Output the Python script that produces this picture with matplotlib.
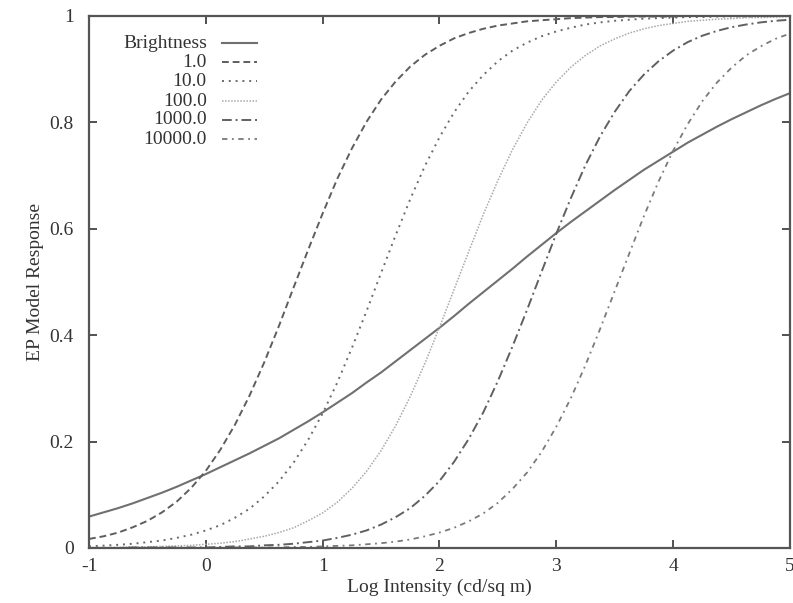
import matplotlib
matplotlib.use('Agg')
import matplotlib.pyplot as plt

plt.rcParams['font.family'] = ['Liberation Serif', 'DejaVu Serif']
plt.rcParams['axes.unicode_minus'] = False

# log intensity, steps of 0.125
log_i = [-1.0, -0.875, -0.75, -0.625, -0.5, -0.375, -0.25, -0.125,
         0.0, 0.125, 0.25, 0.375, 0.5, 0.625, 0.75, 0.875,
         1.0, 1.125, 1.25, 1.375, 1.5, 1.625, 1.75, 1.875,
         2.0, 2.125, 2.25, 2.375, 2.5, 2.625, 2.75, 2.875,
         3.0, 3.125, 3.25, 3.375, 3.5, 3.625, 3.75, 3.875,
         4.0, 4.125, 4.25, 4.375, 4.5, 4.625, 4.75, 4.875, 5.0]

brightness = [0.059, 0.067, 0.075, 0.084, 0.094, 0.104, 0.115, 0.127,
              0.139, 0.152, 0.165, 0.178, 0.192, 0.206, 0.222, 0.238,
              0.255, 0.273, 0.291, 0.311, 0.330, 0.351, 0.372, 0.393,
              0.414, 0.436, 0.459, 0.481, 0.503, 0.525, 0.548, 0.570,
              0.592, 0.613, 0.633, 0.653, 0.673, 0.692, 0.711, 0.728,
              0.745, 0.762, 0.777, 0.792, 0.806, 0.819, 0.832, 0.844, 0.855]
resp_1 = [0.017, 0.022, 0.029, 0.039, 0.051, 0.067, 0.087, 0.113,
          0.145, 0.185, 0.232, 0.287, 0.349, 0.417, 0.489, 0.560,
          0.629, 0.694, 0.751, 0.801, 0.843, 0.877, 0.905, 0.927,
          0.944, 0.958, 0.968, 0.976, 0.982, 0.986, 0.990, 0.992,
          0.994, 0.996, 0.997, 0.998, 0.998, 0.999, 0.999, 0.999,
          0.999, 1.0, 1.0, 1.0, 1.0, 1.0, 1.0, 1.0, 1.0]
resp_10 = [0.003, 0.0045, 0.006, 0.008, 0.011, 0.014, 0.019, 0.025,
           0.033, 0.043, 0.057, 0.074, 0.097, 0.125, 0.160, 0.203,
           0.253, 0.311, 0.376, 0.445, 0.517, 0.588, 0.656, 0.718,
           0.772, 0.819, 0.858, 0.889, 0.915, 0.935, 0.950, 0.962,
           0.971, 0.978, 0.984, 0.988, 0.991, 0.993, 0.995, 0.996,
           0.997, 0.998, 0.998, 0.999, 0.999, 0.999, 0.999, 1.0, 1.0]
resp_100 = [0.001, 0.001, 0.001, 0.002, 0.002, 0.003, 0.004, 0.005,
            0.007, 0.009, 0.012, 0.017, 0.022, 0.029, 0.038, 0.051,
            0.066, 0.086, 0.112, 0.144, 0.183, 0.230, 0.285, 0.347,
            0.415, 0.486, 0.557, 0.627, 0.691, 0.749, 0.799, 0.842,
            0.876, 0.904, 0.926, 0.944, 0.957, 0.968, 0.976, 0.982,
            0.986, 0.990, 0.992, 0.994, 0.995, 0.997, 0.997, 0.998, 0.999]
resp_1000 = [0.0, 0.0, 0.0, 0.001, 0.001, 0.001, 0.001, 0.001,
             0.001, 0.002, 0.003, 0.003, 0.005, 0.006, 0.008, 0.011,
             0.014, 0.019, 0.025, 0.033, 0.044, 0.058, 0.075, 0.098,
             0.126, 0.162, 0.205, 0.255, 0.314, 0.379, 0.448, 0.520,
             0.591, 0.658, 0.720, 0.774, 0.820, 0.859, 0.890, 0.915,
             0.935, 0.951, 0.963, 0.972, 0.979, 0.984, 0.988, 0.991, 0.993]
resp_10000 = [0.0, 0.0, 0.0, 0.0, 0.0, 0.0, 0.0, 0.0,
              0.0, 0.0, 0.001, 0.001, 0.001, 0.001, 0.002, 0.002,
              0.003, 0.004, 0.005, 0.007, 0.009, 0.012, 0.016, 0.022,
              0.029, 0.038, 0.050, 0.065, 0.085, 0.111, 0.142, 0.181,
              0.228, 0.282, 0.344, 0.412, 0.483, 0.554, 0.624, 0.689,
              0.747, 0.797, 0.840, 0.875, 0.903, 0.926, 0.943, 0.957, 0.967]

labels = ['Brightness', '1.0', '10.0', '100.0', '1000.0', '10000.0']
series = [brightness, resp_1, resp_10, resp_100, resp_1000, resp_10000]
styles = [
    dict(color='#707070', lw=1.5, ls='-'),
    dict(color='#5e5e5e', lw=1.4, ls=(0, (3.5, 2))),
    dict(color='#6a6a6a', lw=1.4, ls=(0, (1, 2.5))),
    dict(color='#a8a8a8', lw=1.1, ls=(0, (1, 1))),
    dict(color='#606060', lw=1.4, ls=(0, (5, 2, 1, 2))),
    dict(color='#7a7a7a', lw=1.3, ls=(0, (3, 2.5, 1, 2.5))),
]

fs = 14

fig = plt.figure(figsize=(7.93, 6.03), dpi=100)
ax = fig.add_axes([89 / 793, 55 / 603, 701 / 793, 532 / 603])

for ys, st in zip(series, styles):
    ax.plot(log_i, ys, **st)

ax.set_xlim(-1, 5)
ax.set_ylim(0, 1)
ax.set_xticks([-1, 0, 1, 2, 3, 4, 5])
ax.set_xticklabels(['-1', '0', '1', '2', '3', '4', '5'])
ax.set_yticks([0, 0.2, 0.4, 0.6, 0.8, 1])
ax.set_yticklabels(['0', '0.2', '0.4', '0.6', '0.8', '1'])
ax.tick_params(direction='in', length=6, width=1.2, top=True, right=True,
               labelsize=fs, colors='#333333')
ax.tick_params(axis='x', pad=7)
ax.tick_params(axis='y', pad=11)
for s in ax.spines.values():
    s.set_color('#555555')
    s.set_linewidth(1.6)

ax.set_xlabel('Log Intensity (cd/sq m)', fontsize=fs, color='#333333', labelpad=3)
ax.set_ylabel('EP Model Response', fontsize=fs, color='#333333', labelpad=4)

# key drawn by hand: labels right-aligned, sample line after them
key_y = [0.949, 0.913, 0.877, 0.840, 0.805, 0.768]
for lab, st, ky in zip(labels, styles, key_y):
    ax.text(0.168, ky, lab, transform=ax.transAxes, ha='right', va='center',
            fontsize=fs, color='#333333')
    ax.plot([0.19, 0.24], [ky, ky], transform=ax.transAxes, **st)

fig.savefig('out.png', dpi=100)
